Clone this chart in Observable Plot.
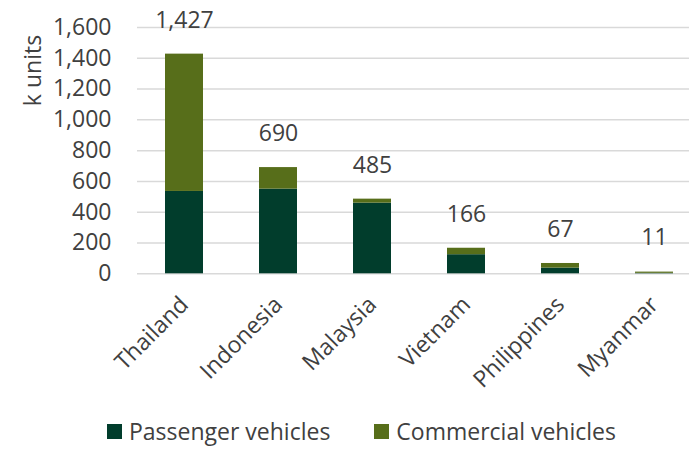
<!DOCTYPE html>
<html>
<head>
<meta charset="utf-8">
<script src="https://cdn.jsdelivr.net/npm/d3@7"></script>
<script src="https://cdn.jsdelivr.net/npm/@observablehq/plot@0.6"></script>
<style>
  body { margin: 0; background: #fff; font-family: "Open Sans", sans-serif; color: #404040; }
  #chart svg { overflow: visible; display: block; }
  .legend { display: flex; align-items: center; height: 30px; line-height: 1; margin-top: 1px; margin-left: 107px; font-size: 23px; color: #404040; }
  .legend .item { display: flex; align-items: center; margin-right: 44px; }
  .legend .sw { width: 15px; height: 15px; margin-right: 7px; }
</style>
</head>
<body>
<div id="chart"></div>
<script>
const countries = ["Thailand", "Indonesia", "Malaysia", "Vietnam", "Philippines", "Myanmar"];
const passenger = [535, 550, 459, 124, 37, 3];
const commercial = [892, 140, 26, 42, 30, 8];
const totals = [1427, 690, 485, 166, 67, 11];
const seriesNames = ["Passenger vehicles", "Commercial vehicles"];
const seriesColors = ["#013d2c", "#576e1a"];
const yTicks = [0, 200, 400, 600, 800, 1000, 1200, 1400, 1600];

const rows = [];
countries.forEach((c, i) => {
  rows.push({country: c, type: seriesNames[0], value: passenger[i]});
  rows.push({country: c, type: seriesNames[1], value: commercial[i]});
});
const totalRows = countries.map((c, i) => ({country: c, total: totals[i]}));

const chart = Plot.plot({
  width: 689,
  height: 415,
  marginLeft: 137,
  marginRight: -12,
  marginTop: 27,
  marginBottom: 141.7,
  style: {fontFamily: "Open Sans, sans-serif", color: "#404040", background: "#fff"},
  x: {domain: countries, paddingInner: 0.6, paddingOuter: 0.3, label: null},
  y: {domain: [0, 1600], label: null},
  color: {domain: seriesNames, range: seriesColors},
  marks: [
    Plot.gridY(yTicks, {stroke: "#d9d9d9", strokeOpacity: 1, strokeWidth: 1.5}),
    Plot.barY(rows, {x: "country", y: "value", fill: "type"}),
    Plot.text(totalRows, {x: "country", y: "total", text: d => d3.format(",")(d.total), dy: -34, fontSize: 23, fill: "#404040"}),
    Plot.axisY({ticks: yTicks, tickSize: 0, tickPadding: 26, fontSize: 23, tickFormat: d3.format(","), label: null}),
    Plot.axisX({tickSize: 0, tickRotate: -45, tickPadding: 27, fontSize: 23, label: null}),
    Plot.text(["k units"], {frameAnchor: "top-left", textAnchor: "middle", rotate: -90, dx: -113, dy: 43, fontSize: 23, fill: "#404040"})
  ]
});
document.getElementById("chart").appendChild(chart);

const legend = document.createElement("div");
legend.className = "legend";
seriesNames.forEach((name, i) => {
  const item = document.createElement("div");
  item.className = "item";
  const sw = document.createElement("span");
  sw.className = "sw";
  sw.style.background = seriesColors[i];
  const t = document.createElement("span");
  t.textContent = name;
  item.appendChild(sw);
  item.appendChild(t);
  legend.appendChild(item);
});
document.body.appendChild(legend);
</script>
</body>
</html>
